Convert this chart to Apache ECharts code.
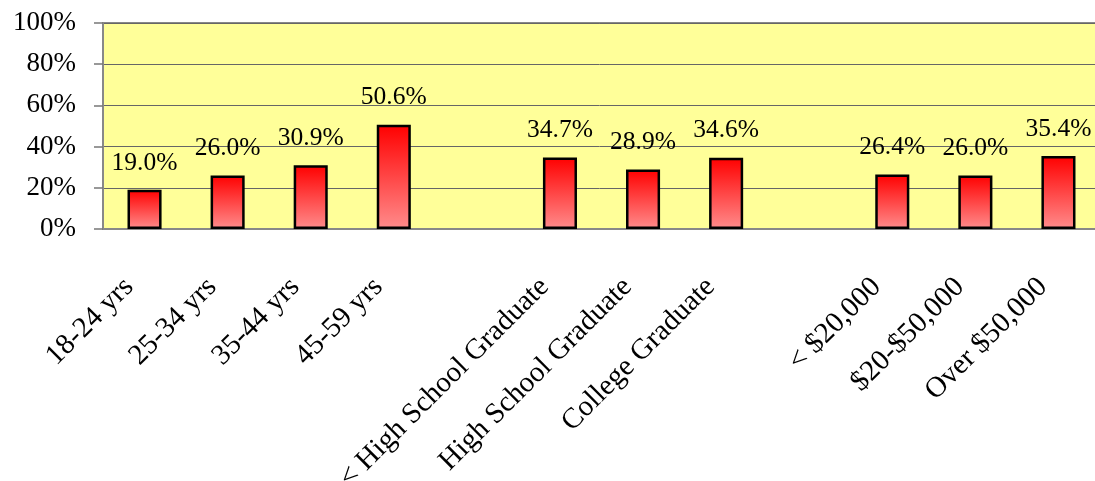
<!DOCTYPE html>
<html>
<head>
<meta charset="utf-8">
<script src="https://cdn.jsdelivr.net/npm/echarts@6/dist/echarts.min.js"></script>
<style>
  html, body { margin: 0; padding: 0; background: #fff; }
  #chart { width: 1095px; height: 481px; }
</style>
</head>
<body>
<div id="chart"></div>
<script>
// categories (blank entries are the gaps between groups)
const categories = [
  '18-24 yrs', '25-34 yrs', '35-44 yrs', '45-59 yrs', '',
  '< High School Graduate', 'High School Graduate', 'College Graduate', ' ',
  '< $20,000', '$20-$50,000', 'Over $50,000'
];
const shares = [19.0, 26.0, 30.9, 50.6, null, 34.7, 28.9, 34.6, null, 26.4, 26.0, 35.4];
const yTicks = [0, 20, 40, 60, 80, 100];

const font = 'Liberation Serif';
const chart = echarts.init(document.getElementById('chart'));

chart.setOption({
  animation: false,
  grid: {
    left: 103,
    top: 23,
    bottom: 252,
    right: -5,
    outerBoundsMode: 'none',
    show: true,
    backgroundColor: '#ffff99',
    borderColor: '#888',
    borderWidth: 2
  },
  xAxis: {
    type: 'category',
    data: categories,
    axisLine: { lineStyle: { color: '#888', width: 2 } },
    axisTick: { length: 8, lineStyle: { color: '#777', width: 1.5 } },
    axisLabel: {
      interval: 0,
      rotate: 45,
      margin: 38,
      padding: [0, 22, 0, 0],
      color: '#000',
      fontFamily: font,
      fontSize: 29,
      hideOverlap: false
    }
  },
  yAxis: {
    type: 'value',
    min: yTicks[0],
    max: yTicks[yTicks.length - 1],
    interval: 20,
    axisLine: { show: true, lineStyle: { color: '#888', width: 2 } },
    axisTick: { show: true, length: 9, lineStyle: { color: '#777', width: 1.5 } },
    splitLine: { lineStyle: { color: '#666', width: 1 } },
    axisLabel: {
      formatter: '{value}%',
      margin: 27,
      color: '#000',
      fontFamily: font,
      fontSize: 27
    }
  },
  series: [
    {
      type: 'bar',
      data: shares,
      barWidth: '41%',
      itemStyle: {
        color: new echarts.graphic.LinearGradient(0, 0, 0, 1, [
          { offset: 0, color: '#ff0000' },
          { offset: 1, color: '#ff8c8c' }
        ]),
        borderColor: '#000',
        borderWidth: 2.5
      },
      label: {
        show: true,
        position: 'top',
        distance: 14,
        formatter: p => p.value.toFixed(1) + '%',
        color: '#000',
        fontFamily: font,
        fontSize: 25.5
      }
    }
  ]
});
</script>
</body>
</html>
